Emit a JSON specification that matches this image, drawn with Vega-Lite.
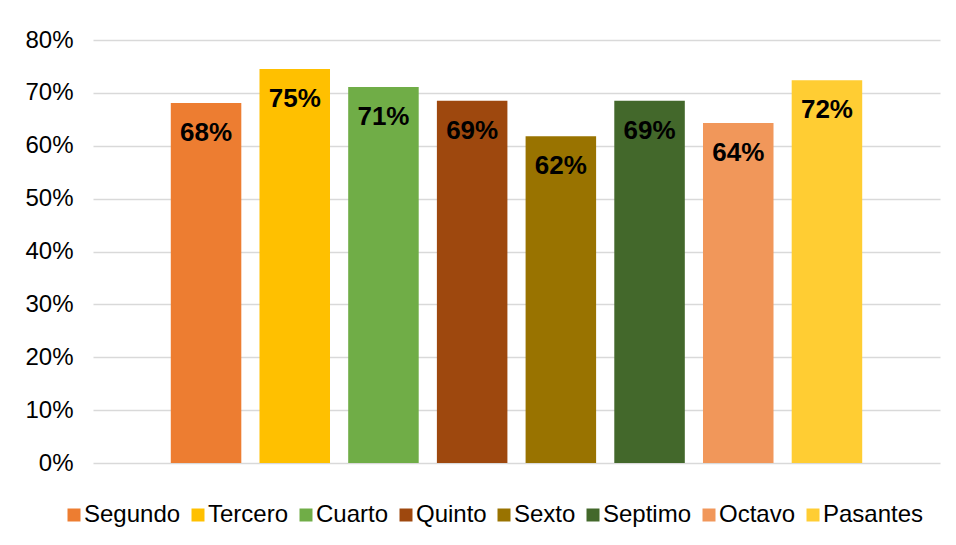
{
  "$schema": "https://vega.github.io/schema/vega-lite/v6.json",
  "width": 847,
  "height": 423,
  "autosize": {"type": "none"},
  "padding": {"left": 93, "top": 40, "right": 16, "bottom": 82},
  "background": "white",
  "config": {
    "font": "Liberation Sans",
    "view": {"stroke": null}
  },
  "data": {
    "values": [
      {"grupo": "Segundo", "valor": 0.681},
      {"grupo": "Tercero", "valor": 0.745},
      {"grupo": "Cuarto", "valor": 0.711},
      {"grupo": "Quinto", "valor": 0.685},
      {"grupo": "Sexto", "valor": 0.618},
      {"grupo": "Septimo", "valor": 0.685},
      {"grupo": "Octavo", "valor": 0.643},
      {"grupo": "Pasantes", "valor": 0.724}
    ]
  },
  "encoding": {
    "x": {
      "field": "grupo",
      "type": "nominal",
      "sort": ["Segundo", "Tercero", "Cuarto", "Quinto", "Sexto", "Septimo", "Octavo", "Pasantes"],
      "scale": {"paddingInner": 0.205, "paddingOuter": 0.877},
      "axis": null
    },
    "y": {
      "field": "valor",
      "type": "quantitative",
      "scale": {"domain": [0, 0.8], "nice": false},
      "axis": {
        "title": null,
        "format": ".0%",
        "values": [0, 0.1, 0.2, 0.3, 0.4, 0.5, 0.6, 0.7, 0.8],
        "ticks": false,
        "domain": false,
        "labelPadding": 20,
        "labelFontSize": 24,
        "labelColor": "#000000",
        "gridColor": "#D9D9D9",
        "gridWidth": 1.5
      }
    }
  },
  "layer": [
    {
      "mark": {"type": "bar"},
      "encoding": {
        "color": {
          "field": "grupo",
          "type": "nominal",
          "sort": ["Segundo", "Tercero", "Cuarto", "Quinto", "Sexto", "Septimo", "Octavo", "Pasantes"],
          "scale": {
            "domain": ["Segundo", "Tercero", "Cuarto", "Quinto", "Sexto", "Septimo", "Octavo", "Pasantes"],
            "range": ["#ED7D31", "#FFC000", "#70AD47", "#9E480E", "#997300", "#43682B", "#F1975A", "#FFCD33"]
          },
          "legend": {
            "title": null,
            "orient": "none",
            "direction": "horizontal",
            "columns": 8,
            "legendX": -31,
            "legendY": 463,
            "symbolType": "square",
            "symbolSize": 169,
            "symbolStrokeWidth": 0,
            "labelFontSize": 24,
            "labelColor": "#000000",
            "labelOffset": -2,
            "columnPadding": 5,
            "labelLimit": 300
          }
        }
      }
    },
    {
      "mark": {
        "type": "text",
        "baseline": "top",
        "dy": 17,
        "fontSize": 26,
        "fontWeight": "bold",
        "color": "#000000"
      },
      "encoding": {
        "text": {"field": "valor", "type": "quantitative", "format": ".0%"}
      }
    }
  ]
}
